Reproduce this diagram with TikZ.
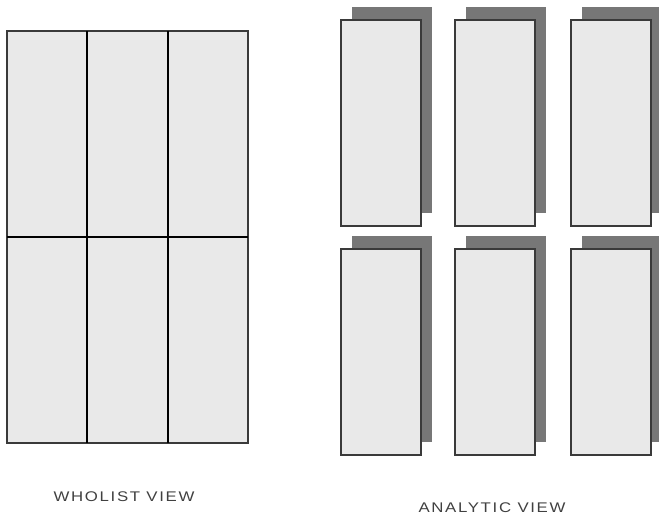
\documentclass[tikz,border=0pt]{standalone}
\usepackage{fontspec}
\setmainfont{Liberation Sans}
\definecolor{panel}{HTML}{E9E9E9}
\definecolor{shade}{HTML}{777777}
\definecolor{edge}{HTML}{3A3A3A}
\begin{document}
\begin{tikzpicture}[x=1pt,y=-1pt,
  cell/.style={draw=edge,line width=1.6pt,fill=panel},
  card/.style={draw=edge,line width=1.4pt,fill=panel},
  backing/.style={fill=shade},
  caption/.style={font=\fontsize{14}{16}\selectfont\addfontfeature{LetterSpace=10},text=black!75,xscale=1.2}]
\useasboundingbox (0,0) rectangle (659,521);

% whole view: 3 x 2 grid
\foreach \x in {0,1,2}
  \foreach \y in {0,1}
    \draw[cell] ({7+80.33*\x},{31+206*\y}) rectangle ++(80.33,206);
\draw[line width=2pt,black] (7,237) -- (248,237);
\draw[line width=2pt,black] (87.3,31) -- (87.3,443);
\draw[line width=2pt,black] (167.7,31) -- (167.7,443);

% analytic view: separate cards with offset backing
\foreach \x in {341,455,571}
  \foreach \y in {20,249} {
    \fill[backing] (\x+11,\y-13) rectangle ++(80,206);
    \draw[card] (\x,\y) rectangle ++(80,206);
  }

\node[caption] (whole) at (124,497) {WHOLIST VIEW};
\node[caption] (parts) at (492,508) {ANALYTIC VIEW};
\end{tikzpicture}
\end{document}
